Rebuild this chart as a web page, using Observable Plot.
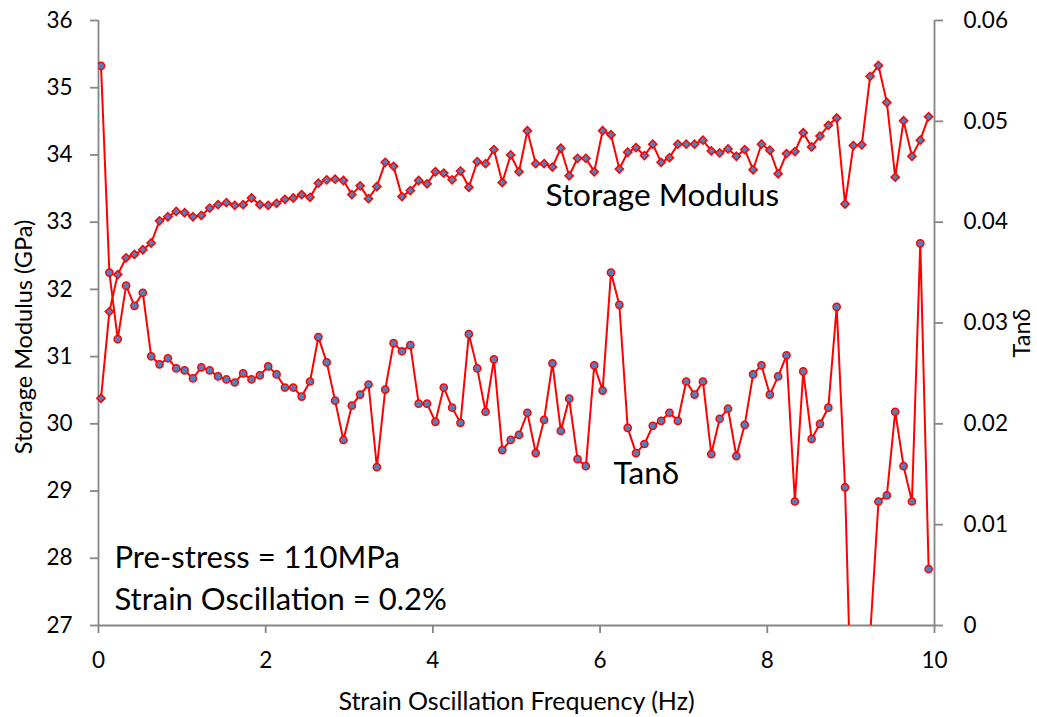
<!DOCTYPE html>
<html>
<head>
<meta charset="utf-8">
<script src="https://cdn.jsdelivr.net/npm/d3@7"></script>
<script src="https://cdn.jsdelivr.net/npm/@observablehq/plot@0.6"></script>
<style>
  html, body { margin: 0; padding: 0; background: #fff; }
  #chart { width: 1037px; height: 717px; overflow: hidden; }
</style>
</head>
<body>
<div id="chart"></div>
<script>
// Strain oscillation frequency sweep (Hz)
const frequency = [
  0.03, 0.13, 0.23, 0.33, 0.43, 0.53, 0.63, 0.73, 0.83, 0.93,
  1.03, 1.13, 1.23, 1.33, 1.43, 1.53, 1.63, 1.73, 1.83, 1.93,
  2.03, 2.13, 2.23, 2.33, 2.43, 2.53, 2.63, 2.73, 2.83, 2.93,
  3.03, 3.13, 3.23, 3.33, 3.43, 3.53, 3.63, 3.73, 3.83, 3.93,
  4.03, 4.13, 4.23, 4.33, 4.43, 4.53, 4.63, 4.73, 4.83, 4.93,
  5.03, 5.13, 5.23, 5.33, 5.43, 5.53, 5.63, 5.73, 5.83, 5.93,
  6.03, 6.13, 6.23, 6.33, 6.43, 6.53, 6.63, 6.73, 6.83, 6.93,
  7.03, 7.13, 7.23, 7.33, 7.43, 7.53, 7.63, 7.73, 7.83, 7.93,
  8.03, 8.13, 8.23, 8.33, 8.43, 8.53, 8.63, 8.73, 8.83, 8.93,
  9.03, 9.13, 9.23, 9.33, 9.43, 9.53, 9.63, 9.73, 9.83, 9.93
];

// Storage modulus (GPa)
const storageModulus = [
  30.38, 31.67, 32.22, 32.47, 32.52, 32.59, 32.69, 33.02, 33.08, 33.16,
  33.14, 33.08, 33.10, 33.21, 33.26, 33.29, 33.25, 33.26, 33.36, 33.26,
  33.25, 33.28, 33.34, 33.36, 33.41, 33.37, 33.58, 33.63, 33.64, 33.62,
  33.41, 33.54, 33.35, 33.53, 33.89, 33.83, 33.38, 33.47, 33.62, 33.57,
  33.75, 33.73, 33.63, 33.76, 33.52, 33.90, 33.87, 34.08, 33.59, 34.00,
  33.75, 34.36, 33.87, 33.87, 33.82, 34.10, 33.69, 33.95, 33.95, 33.75,
  34.36, 34.30, 33.79, 34.04, 34.11, 33.99, 34.16, 33.89, 33.96, 34.16,
  34.16, 34.16, 34.22, 34.06, 34.03, 34.09, 33.98, 34.08, 33.78, 34.16,
  34.07, 33.72, 34.02, 34.05, 34.33, 34.12, 34.28, 34.44, 34.55, 33.27,
  34.14, 34.15, 35.17, 35.33, 34.78, 33.67, 34.51, 33.98, 34.22, 34.57
];

// Loss tangent (tanδ); the three values near 9.1–9.3 Hz fall below the axis
const tanDelta = [
  0.0555, 0.0350, 0.0284, 0.0337, 0.0317, 0.0330, 0.0267, 0.0259, 0.0265, 0.0255,
  0.0253, 0.0245, 0.0256, 0.0253, 0.0247, 0.0244, 0.0241, 0.0250, 0.0244, 0.0248,
  0.0257, 0.0249, 0.0236, 0.0236, 0.0227, 0.0242, 0.0286, 0.0261, 0.0223, 0.0184,
  0.0218, 0.0229, 0.0239, 0.0157, 0.0234, 0.0280, 0.0272, 0.0278, 0.0220, 0.0220,
  0.0202, 0.0236, 0.0216, 0.0201, 0.0289, 0.0255, 0.0212, 0.0264, 0.0174, 0.0184,
  0.0189, 0.0211, 0.0171, 0.0204, 0.0260, 0.0193, 0.0225, 0.0165, 0.0158, 0.0258,
  0.0233, 0.0350, 0.0318, 0.0196, 0.0171, 0.0180, 0.0198, 0.0203, 0.0211, 0.0203,
  0.0242, 0.0229, 0.0242, 0.0170, 0.0205, 0.0215, 0.0168, 0.0199, 0.0249, 0.0258,
  0.0229, 0.0247, 0.0268, 0.0123, 0.0252, 0.0185, 0.0200, 0.0216, 0.0316, 0.0137,
  -0.0160, -0.0200, -0.0010, 0.0123, 0.0129, 0.0212, 0.0158, 0.0123, 0.0379, 0.0056
];

const freqTicks = [0, 2, 4, 6, 8, 10];
const storageTicks = [27, 28, 29, 30, 31, 32, 33, 34, 35, 36];
const tanTicks = [0, 0.01, 0.02, 0.03, 0.04, 0.05, 0.06];

const leftDomain = [27, 36];
const rightDomain = [0, 0.06];

// Secondary axis: map tanδ onto the storage-modulus scale
const tanToLeft = t =>
  leftDomain[0] + (t - rightDomain[0]) * (leftDomain[1] - leftDomain[0]) / (rightDomain[1] - rightDomain[0]);
const leftToTan = v =>
  rightDomain[0] + (v - leftDomain[0]) * (rightDomain[1] - rightDomain[0]) / (leftDomain[1] - leftDomain[0]);

const storageRows = frequency.map((f, i) => ({f, v: storageModulus[i]}));
const tanRows = frequency.map((f, i) => ({f, t: tanDelta[i]}));

const axisGray = "#868686";
const lineRed = "#ff0000";
const markerBlue = "#4f81bd";
const font = "Lato, 'Open Sans', sans-serif";

const chart = Plot.plot({
  width: 1037,
  height: 717,
  marginLeft: 98,
  marginRight: 103,
  marginTop: 20,
  marginBottom: 92,
  style: {fontFamily: font, color: "#000", background: "#fff", overflow: "visible"},
  x: {domain: [0, 10]},
  y: {domain: leftDomain},
  marks: [
    // axis lines
    Plot.ruleY([leftDomain[0]], {stroke: axisGray, strokeWidth: 1.8}),
    Plot.ruleX([0], {stroke: axisGray, strokeWidth: 1.8}),
    Plot.ruleX([10], {stroke: axisGray, strokeWidth: 1.8}),

    Plot.axisX(freqTicks, {
      anchor: "bottom", label: null, tickSize: 8, tickPadding: 19,
      stroke: axisGray, strokeWidth: 1.8, fill: "#000", fontSize: 22.5,
      tickFormat: d => String(d)
    }),
    Plot.axisY(storageTicks, {
      anchor: "left", label: null, tickSize: 8, tickPadding: 18,
      stroke: axisGray, strokeWidth: 1.8, fill: "#000", fontSize: 22.5,
      tickFormat: d => String(d)
    }),
    Plot.axisY(tanTicks.map(tanToLeft), {
      anchor: "right", label: null, tickSize: 8, tickPadding: 21,
      stroke: axisGray, strokeWidth: 1.8, fill: "#000", fontSize: 22.5,
      tickFormat: v => String(+leftToTan(v).toFixed(2))
    }),

    // Storage modulus series
    Plot.line(storageRows, {x: "f", y: "v", stroke: lineRed, strokeWidth: 2}),
    Plot.dot(storageRows, {
      x: "f", y: "v", symbol: "diamond2", r: 3.7,
      fill: markerBlue, stroke: lineRed, strokeWidth: 1.5
    }),

    // tanδ series (secondary axis)
    Plot.line(tanRows, {x: "f", y: d => tanToLeft(d.t), stroke: lineRed, strokeWidth: 2, clip: true}),
    Plot.dot(tanRows, {
      x: "f", y: d => tanToLeft(d.t), symbol: "circle", r: 3.6,
      fill: markerBlue, stroke: lineRed, strokeWidth: 1.5, clip: true
    }),

    // axis titles
    Plot.text(["Strain Oscillation Frequency (Hz)"], {
      text: d => d, frameAnchor: "bottom", dy: 67, lineAnchor: "top",
      textAnchor: "middle", fontSize: 25, fill: "#000"
    }),
    Plot.text(["Storage Modulus (GPa)"], {
      text: d => d, frameAnchor: "left", dx: -83, dy: 14, rotate: -90,
      lineAnchor: "top", textAnchor: "middle", fontSize: 23.5, fill: "#000"
    }),
    Plot.text(["Tanδ"], {
      text: d => d, frameAnchor: "right", dx: 79, dy: 10, rotate: -90,
      lineAnchor: "top", textAnchor: "middle", fontSize: 23.5, fill: "#000"
    }),

    // in-plot labels
    Plot.text(["Storage Modulus"], {
      text: d => d, frameAnchor: "top-left", dx: 447, dy: 163,
      lineAnchor: "top", textAnchor: "start", fontSize: 31.5, fill: "#000"
    }),
    Plot.text(["Tanδ"], {
      text: d => d, frameAnchor: "top-left", dx: 515, dy: 441,
      lineAnchor: "top", textAnchor: "start", fontSize: 31.5, fill: "#000"
    }),
    Plot.text(["Pre-stress = 110MPa"], {
      text: d => d, frameAnchor: "top-left", dx: 16, dy: 525,
      lineAnchor: "top", textAnchor: "start", fontSize: 31, fill: "#000"
    }),
    Plot.text(["Strain Oscillation = 0.2%"], {
      text: d => d, frameAnchor: "top-left", dx: 16, dy: 567,
      lineAnchor: "top", textAnchor: "start", fontSize: 31, fill: "#000"
    })
  ]
});

document.getElementById("chart").appendChild(chart);
</script>
</body>
</html>
